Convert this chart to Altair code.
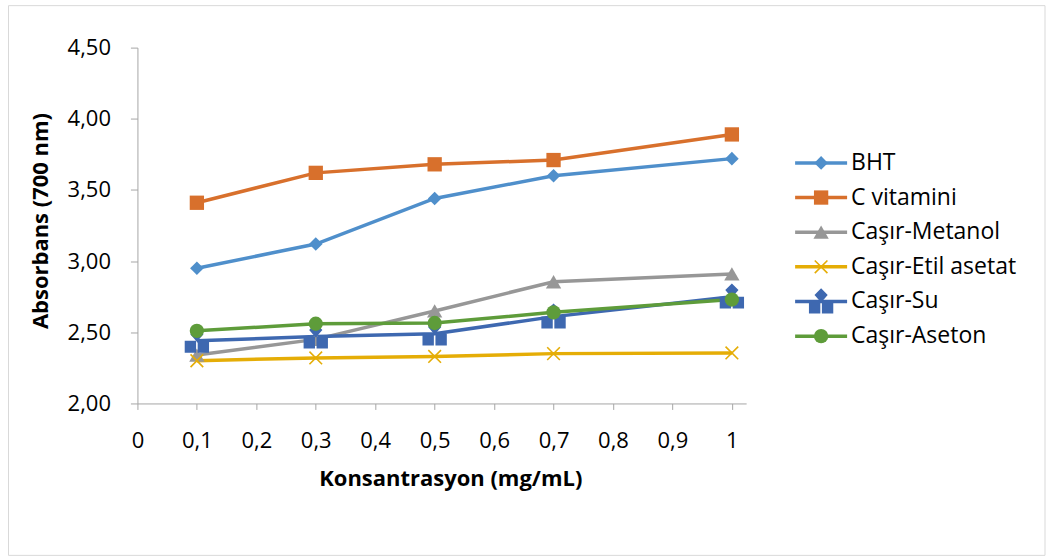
import altair as alt
import pandas as pd

# ---- data ----
konsantrasyon = [0.1, 0.3, 0.5, 0.7, 1.0]
bht = [2.95, 3.12, 3.44, 3.60, 3.72]
c_vitamini = [3.41, 3.62, 3.68, 3.71, 3.89]
casir_metanol = [2.34, 2.45, 2.65, 2.855, 2.91]
casir_etil_asetat = [2.30, 2.32, 2.33, 2.35, 2.355]
casir_su = [2.44, 2.47, 2.49, 2.61, 2.75]
casir_aseton = [2.51, 2.56, 2.565, 2.64, 2.73]

series_names = ["BHT", "C vitamini", "Caşır-Metanol", "Caşır-Etil asetat", "Caşır-Su", "Caşır-Aseton"]
series_values = [bht, c_vitamini, casir_metanol, casir_etil_asetat, casir_su, casir_aseton]

x_ticks = [0, 0.1, 0.2, 0.3, 0.4, 0.5, 0.6, 0.7, 0.8, 0.9, 1.0]
y_ticks = [2.0, 2.5, 3.0, 3.5, 4.0, 4.5]

# ---- styles ----
colors = ["#4F8FCB", "#D8702C", "#979797", "#E5AD06", "#3E68B0", "#5E9C3A"]
X_PATH = "M-1,-1L1,1M-1,1L1,-1"
SU_PATH = ("M0,-1L0.5,-0.5L0,0.08L-0.5,-0.5Z"
           "M-0.92,0L-0.06,0L-0.06,0.9L-0.92,0.9Z"
           "M0.06,0L0.92,0L0.92,0.9L0.06,0.9Z")
shapes = ["diamond", "square", "triangle-up", X_PATH, SU_PATH, "circle"]
sizes = [185, 205, 235, 160, 700, 205]

FONT = "Open Sans"
STROKED = "Caşır-Etil asetat"

rows = []
for name, vals in zip(series_names, series_values):
    for xv, yv in zip(konsantrasyon, vals):
        rows.append({"series": name, "x": xv, "y": yv})
df = pd.DataFrame(rows)
leg_df = pd.DataFrame({"series": series_names})

color_scale = alt.Scale(domain=series_names, range=colors)
shape_scale = alt.Scale(domain=series_names, range=shapes)
size_scale = alt.Scale(type="ordinal", domain=series_names, range=sizes)

color_enc = alt.Color("series:N", scale=color_scale, legend=None)
shape_enc = alt.Shape("series:N", scale=shape_scale, legend=None)
size_enc = alt.Size("series:N", scale=size_scale, legend=None)

x_enc = alt.X(
    "x:Q",
    scale=alt.Scale(domain=[0, 1.024], nice=False, zero=False),
    axis=alt.Axis(
        values=x_ticks,
        labelExpr="replace(format(datum.value, '.1~f'), '.', ',')",
        tickSize=6,
        labelPadding=31,
        labelBaseline="middle",
        labelOverlap=False,
        labelFlush=False,
        title="Konsantrasyon (mg/mL)",
        titleX=313,
        titleY=75,
        titleBaseline="middle",
        titleAlign="center",
    ),
)
y_enc = alt.Y(
    "y:Q",
    scale=alt.Scale(domain=[2.0, 4.5], nice=False, zero=False),
    axis=alt.Axis(
        values=y_ticks,
        labelExpr="replace(format(datum.value, '.2f'), '.', ',')",
        tickSize=7,
        labelPadding=20,
        title="Absorbans (700 nm)",
        titleX=-97,
        titleY=173,
        titleAngle=270,
        titleBaseline="middle",
        titleAlign="center",
    ),
)

border = alt.Chart(alt.Data(values=[{}])).mark_rect(
    fillOpacity=0, stroke="#D9D9D9", strokeWidth=1
).encode(
    x=alt.value(-129), x2=alt.value(908), y=alt.value(-42), y2=alt.value(508)
)

lines = alt.Chart(df).mark_line(strokeWidth=3.5).encode(
    x=x_enc, y=y_enc, color=color_enc, order=alt.Order("x:Q")
)
pts_filled = alt.Chart(df).transform_filter(
    alt.datum.series != STROKED
).mark_point(filled=True, opacity=1).encode(
    x="x:Q", y="y:Q", color=color_enc, shape=shape_enc, size=size_enc
)
pts_stroked = alt.Chart(df).transform_filter(
    alt.datum.series == STROKED
).mark_point(filled=False, opacity=1, strokeWidth=1.6).encode(
    x="x:Q", y="y:Q", color=color_enc, shape=shape_enc, size=size_enc
)

main = alt.layer(border, lines, pts_filled, pts_stroked)

leg_y = alt.Y(
    "series:N",
    scale=alt.Scale(domain=series_names, range=[98, 306], padding=0),
    axis=None,
)
leg_rule = alt.Chart(leg_df).mark_rule(strokeWidth=3.5).encode(
    x=alt.value(658), x2=alt.value(710), y=leg_y, color=color_enc
)
leg_pts = alt.Chart(leg_df).transform_filter(
    alt.datum.series != STROKED
).mark_point(filled=True, opacity=1).encode(
    x=alt.value(684), y=leg_y, color=color_enc, shape=shape_enc, size=size_enc
)
leg_pts_x = alt.Chart(leg_df).transform_filter(
    alt.datum.series == STROKED
).mark_point(filled=False, opacity=1, strokeWidth=1.6).encode(
    x=alt.value(684), y=leg_y, color=color_enc, shape=shape_enc, size=size_enc
)
leg_text = alt.Chart(leg_df).mark_text(
    align="left", baseline="middle", font=FONT, fontSize=23, color="#000000"
).encode(x=alt.value(714), y=leg_y, text="series:N")

legend = alt.layer(leg_rule, leg_pts, leg_pts_x, leg_text)

chart = alt.layer(main, legend).resolve_scale(y="independent").properties(
    width=609,
    height=356,
    padding={"left": 7.5, "top": 4.5, "right": 0, "bottom": 0},
    background="#FFFFFF",
).configure_view(
    strokeWidth=0
).configure_axis(
    grid=False,
    domainColor="#A6A6A6",
    tickColor="#A6A6A6",
    domainWidth=1,
    tickWidth=1,
    labelFont=FONT,
    labelFontSize=22,
    labelColor="#000000",
    titleFont=FONT,
    titleFontSize=22,
    titleFontWeight="bold",
    titleColor="#000000",
)

chart.save("out.html", embed_options={"renderer": "svg", "actions": False})
